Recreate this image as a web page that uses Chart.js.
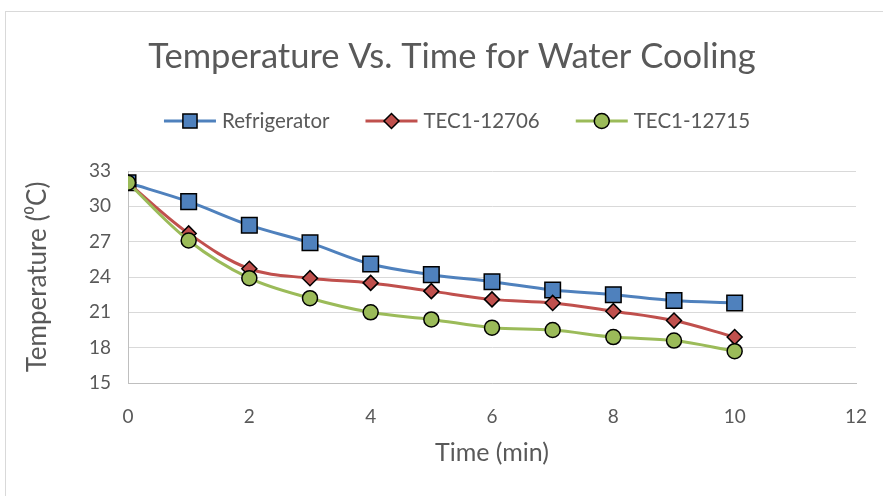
<!DOCTYPE html>
<html>
<head>
<meta charset="utf-8">
<script src="https://cdn.jsdelivr.net/npm/chart.js@4"></script>
<style>
  body { margin: 0; background: #fff; }
  #wrap { width: 883px; height: 496px; }
</style>
</head>
<body>
<div id="wrap"><canvas id="myChart" width="883" height="496"></canvas></div>
<script>
// data
const times = [0, 1, 2, 3, 4, 5, 6, 7, 8, 9, 10];
const refrigerator = [32.0, 30.4, 28.4, 26.9, 25.1, 24.2, 23.6, 22.9, 22.5, 22.0, 21.8];
const tec12706 = [32.0, 27.7, 24.7, 23.9, 23.5, 22.8, 22.1, 21.8, 21.1, 20.3, 18.9];
const tec12715 = [32.0, 27.1, 23.9, 22.2, 21.0, 20.4, 19.7, 19.5, 18.9, 18.6, 17.7];
const seriesNames = ["Refrigerator", "TEC1-12706", "TEC1-12715"];
const xTicks = [0, 2, 4, 6, 8, 10, 12];
const yTicks = [15, 18, 21, 24, 27, 30, 33];

const colors = {
  blue: "#4f81bd",
  red: "#c0504d",
  green: "#9bbb59",
  text: "#595959",
  grid: "#d9d9d9",
  axis: "#bfbfbf"
};
const fontFamily = "Lato, 'Open Sans', sans-serif";

function toPoints(vals) {
  return vals.map((v, i) => ({ x: times[i], y: v }));
}

function series(label, vals, color, style, radius, order) {
  return {
    label: label,
    data: toPoints(vals),
    borderColor: color,
    backgroundColor: color,
    borderWidth: 3,
    tension: 0.35,
    pointStyle: style,
    pointRadius: radius,
    pointBorderColor: "#000",
    pointBorderWidth: 1.5,
    pointBackgroundColor: color,
    order: order
  };
}

// chart frame border + top title + legend with line and marker
const decor = {
  id: "decor",
  beforeDraw(chart) {
    const ctx = chart.ctx;
    ctx.save();
    ctx.strokeStyle = colors.grid;
    ctx.lineWidth = 1;
    ctx.strokeRect(5.5, 11.5, chart.width + 10, chart.height + 10);
    ctx.restore();
  },
  afterDraw(chart) {
    const ctx = chart.ctx;
    ctx.save();
    ctx.fillStyle = colors.text;
    ctx.font = "34.5px " + fontFamily;
    ctx.textAlign = "center";
    ctx.textBaseline = "middle";
    ctx.fillText("Temperature Vs. Time for Water Cooling", 452, 57);

    // legend
    ctx.font = "20.5px " + fontFamily;
    const lineLen = 52, gap = 6, itemGap = 36;
    const sets = chart.data.datasets;
    let total = 0;
    sets.forEach((ds, i) => {
      total += lineLen + gap + ctx.measureText(ds.label).width;
      if (i < sets.length - 1) total += itemGap;
    });
    let x = 457 - total / 2;
    const y = 121;
    sets.forEach((ds) => {
      ctx.strokeStyle = ds.borderColor;
      ctx.lineWidth = 3;
      ctx.beginPath();
      ctx.moveTo(x, y);
      ctx.lineTo(x + lineLen, y);
      ctx.stroke();
      ctx.fillStyle = ds.pointBackgroundColor;
      ctx.strokeStyle = "#000";
      ctx.lineWidth = 1.5;
      Chart.helpers.drawPoint(ctx, {
        pointStyle: ds.pointStyle,
        radius: ds.pointStyle === "rect" ? 10 : ds.pointRadius,
        rotation: 0,
        borderWidth: 1.5
      }, x + lineLen / 2, y);
      ctx.fillStyle = colors.text;
      ctx.textAlign = "left";
      ctx.fillText(ds.label, x + lineLen + gap, y);
      x += lineLen + gap + ctx.measureText(ds.label).width + itemGap;
    });
    ctx.restore();
  }
};

const ctx = document.getElementById("myChart").getContext("2d");
const myLineChart = new Chart(ctx, {
  type: "line",
  data: {
    datasets: [
      series(seriesNames[0], refrigerator, colors.blue, "rect", 11, 3),
      series(seriesNames[1], tec12706, colors.red, "rectRot", 7.5, 2),
      series(seriesNames[2], tec12715, colors.green, "circle", 7.5, 1)
    ]
  },
  options: {
    responsive: false,
    animation: false,
    layout: { padding: { left: 0, top: 171, right: 27, bottom: 0 } },
    plugins: {
      legend: { display: false },
      title: { display: false },
      tooltip: { enabled: false }
    },
    scales: {
      x: {
        type: "linear",
        min: 0,
        max: 12,
        afterFit(scale) {
          scale.height = 113;
          scale.paddingLeft = 0;
          scale.paddingRight = 0;
        },
        afterBuildTicks(scale) { scale.ticks = xTicks.map(v => ({ value: v })); },
        grid: { display: false, drawTicks: false },
        border: { color: colors.axis, width: 1 },
        ticks: {
          color: colors.text,
          font: { family: fontFamily, size: 19 },
          padding: 22
        },
        title: {
          display: true,
          text: "Time (min)",
          color: colors.text,
          font: { family: fontFamily, size: 25 },
          padding: { top: 0, bottom: 28 }
        }
      },
      y: {
        min: 15,
        max: 33,
        afterFit(scale) {
          scale.width = 128;
          scale.paddingTop = 0;
          scale.paddingBottom = 0;
        },
        afterBuildTicks(scale) { scale.ticks = yTicks.map(v => ({ value: v })); },
        grid: { color: colors.grid, lineWidth: 1, drawTicks: false },
        border: { color: colors.axis, width: 1 },
        ticks: {
          color: colors.text,
          font: { family: fontFamily, size: 19 },
          padding: 17
        },
        title: {
          display: true,
          text: "Temperature (\u2070C)",
          color: colors.text,
          font: { family: fontFamily, size: 26 },
          padding: { top: 22, bottom: 0 }
        }
      }
    }
  },
  plugins: [decor]
});
</script>
</body>
</html>
